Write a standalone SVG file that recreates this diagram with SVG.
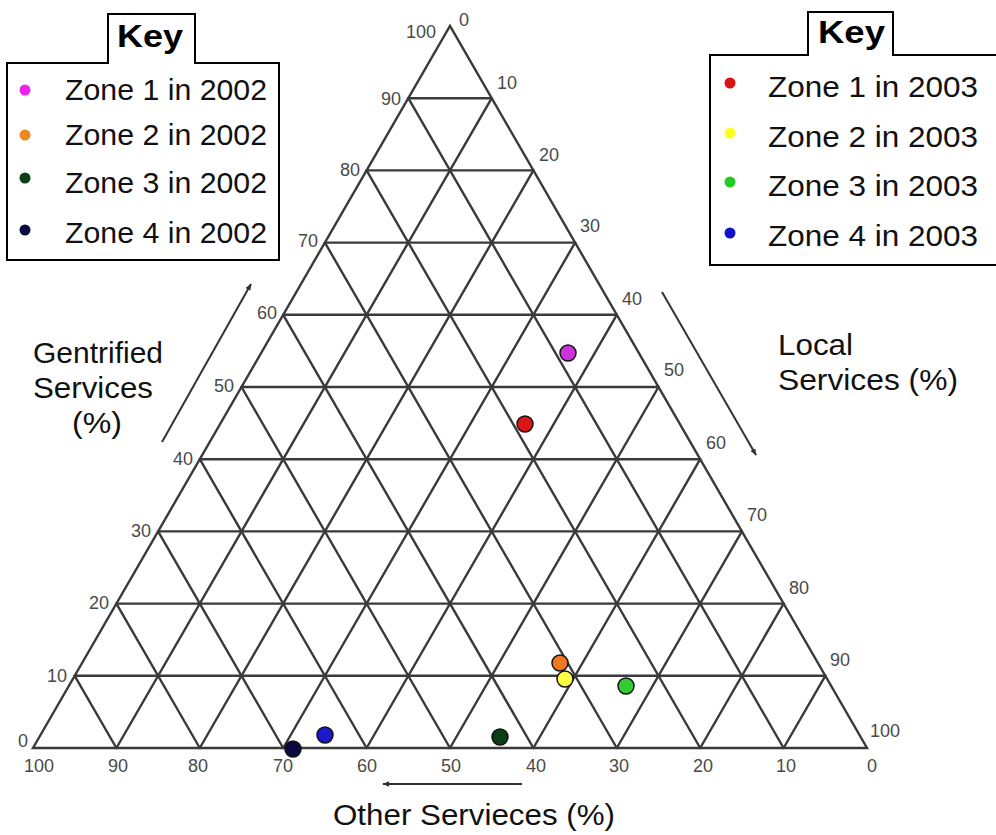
<svg xmlns="http://www.w3.org/2000/svg" width="996" height="835" viewBox="0 0 996 835">
<style>
.grid{stroke:#3a3a3a;stroke-width:2.4;fill:none;stroke-linecap:round}
.tick{font-family:"Liberation Sans",Arial,sans-serif;font-size:18px;fill:#4a4a4a}
.lt{text-anchor:end}
.bt{text-anchor:middle}
.title{font-family:"Liberation Sans",Arial,sans-serif;font-size:30px;fill:#111}
.key{font-family:"Liberation Sans",Arial,sans-serif;font-size:30px;fill:#111}
.keyh{font-family:"Liberation Sans",Arial,sans-serif;font-size:31px;font-weight:bold;fill:#000}
.box{fill:#fff;stroke:#000;stroke-width:2}
.pt{stroke:#111;stroke-width:1.5}
.arrow{stroke:#333;stroke-width:2;fill:none}
</style>
<defs>
<marker id="ah" viewBox="0 0 10 10" refX="9" refY="5" markerWidth="7" markerHeight="7" orient="auto" markerUnits="userSpaceOnUse">
<path d="M0,1 L10,5 L0,9 Z" fill="#333"/>
</marker>
</defs>
<rect width="996" height="835" fill="#fff"/>

<g id="grid">
<polygon class="grid" points="33,748 867,748 450,26"/>
<path class="grid" d="M74.7,675.8H825.3M116.4,603.6H783.6M158.1,531.4H741.9M199.8,459.2H700.2M241.5,387H658.5M283.2,314.8H616.8M324.9,242.6H575.1M366.6,170.4H533.4M408.3,98.2H491.7"/>
<path class="grid" d="M116.4,748L491.7,98.2M199.8,748L533.4,170.4M283.2,748L575.1,242.6M366.6,748L616.8,314.8M450,748L658.5,387M533.4,748L700.2,459.2M616.8,748L741.9,531.4M700.2,748L783.6,603.6M783.6,748L825.3,675.8"/>
<path class="grid" d="M116.4,748L74.7,675.8M199.8,748L116.4,603.6M283.2,748L158.1,531.4M366.6,748L199.8,459.2M450,748L241.5,387M533.4,748L283.2,314.8M616.8,748L324.9,242.6M700.2,748L366.6,170.4M783.6,748L408.3,98.2"/>
</g>

<g id="left-ticks" class="tick lt">
<text x="28" y="747">0</text>
<text x="67" y="682">10</text>
<text x="109" y="609">20</text>
<text x="151" y="537">30</text>
<text x="193" y="465">40</text>
<text x="234" y="392">50</text>
<text x="277" y="319">60</text>
<text x="318" y="247">70</text>
<text x="360" y="176">80</text>
<text x="401" y="105">90</text>
<text x="436" y="38">100</text>
</g>

<g id="right-ticks" class="tick">
<text x="459" y="26">0</text>
<text x="497" y="89">10</text>
<text x="539" y="161">20</text>
<text x="580" y="232">30</text>
<text x="622" y="305">40</text>
<text x="664" y="376">50</text>
<text x="706" y="449">60</text>
<text x="747" y="521">70</text>
<text x="789" y="594">80</text>
<text x="830" y="666">90</text>
<text x="870" y="737">100</text>
</g>

<g id="bottom-ticks" class="tick bt">
<text x="39" y="772">100</text>
<text x="118" y="772">90</text>
<text x="198" y="772">80</text>
<text x="283" y="772">70</text>
<text x="367" y="772">60</text>
<text x="451" y="772">50</text>
<text x="536" y="772">40</text>
<text x="619" y="772">30</text>
<text x="703" y="772">20</text>
<text x="786" y="772">10</text>
<text x="872" y="772">0</text>
</g>

<g id="connectors">
<line class="arrow" x1="162" y1="442" x2="251" y2="284" marker-end="url(#ah)"/>
<line class="arrow" x1="662" y1="292" x2="756" y2="455" marker-end="url(#ah)"/>
<line class="arrow" x1="522" y1="784" x2="383" y2="784" marker-end="url(#ah)"/>
</g>

<g id="axis-gentrified">
<text class="title" x="33" y="363" textLength="130" lengthAdjust="spacingAndGlyphs">Gentrified</text>
<text class="title" x="33" y="398" textLength="120" lengthAdjust="spacingAndGlyphs">Services</text>
<text class="title" x="72" y="433" textLength="50" lengthAdjust="spacingAndGlyphs">(%)</text>
</g>
<g id="axis-local">
<text class="title" x="778" y="355" textLength="75" lengthAdjust="spacingAndGlyphs">Local</text>
<text class="title" x="778" y="390" textLength="180" lengthAdjust="spacingAndGlyphs">Services (%)</text>
</g>
<g id="axis-other">
<text class="title" x="333" y="825" textLength="282" lengthAdjust="spacingAndGlyphs">Other Servieces (%)</text>
</g>

<g id="key-2002">
<path class="box" d="M7,63H108V14H195V63H279V260H7Z"/>
<text class="keyh" x="117" y="47" textLength="66" lengthAdjust="spacingAndGlyphs">Key</text>
<circle cx="25" cy="90" r="5.5" fill="#ee22ee"/>
<circle cx="25" cy="135" r="5.5" fill="#ee8822"/>
<circle cx="25" cy="178" r="5.5" fill="#0b3d16"/>
<circle cx="25" cy="230" r="5.5" fill="#0a0a3c"/>
<text class="key" x="65" y="100" textLength="202" lengthAdjust="spacingAndGlyphs">Zone 1 in 2002</text>
<text class="key" x="65" y="145" textLength="202" lengthAdjust="spacingAndGlyphs">Zone 2 in 2002</text>
<text class="key" x="65" y="193" textLength="202" lengthAdjust="spacingAndGlyphs">Zone 3 in 2002</text>
<text class="key" x="65" y="243" textLength="202" lengthAdjust="spacingAndGlyphs">Zone 4 in 2002</text>
</g>

<g id="key-2003">
<path class="box" d="M710,55H808V12H893V55H1000V265H710Z"/>
<text class="keyh" x="818" y="43" textLength="67" lengthAdjust="spacingAndGlyphs">Key</text>
<circle cx="730" cy="83" r="5.5" fill="#dd1111"/>
<circle cx="730" cy="133" r="5.5" fill="#ffff22"/>
<circle cx="730" cy="182" r="5.5" fill="#22cc22"/>
<circle cx="730" cy="233" r="5.5" fill="#1111cc"/>
<text class="key" x="768" y="97" textLength="210" lengthAdjust="spacingAndGlyphs">Zone 1 in 2003</text>
<text class="key" x="768" y="147" textLength="210" lengthAdjust="spacingAndGlyphs">Zone 2 in 2003</text>
<text class="key" x="768" y="196" textLength="210" lengthAdjust="spacingAndGlyphs">Zone 3 in 2003</text>
<text class="key" x="768" y="246" textLength="210" lengthAdjust="spacingAndGlyphs">Zone 4 in 2003</text>
</g>

<g id="zone1-2002"><circle class="pt" cx="568" cy="353" r="8" fill="#cc33dd"/></g>
<g id="zone1-2003"><circle class="pt" cx="525" cy="424" r="8" fill="#dd1515"/></g>
<g id="zone2-2002"><circle class="pt" cx="560" cy="663" r="8" fill="#ee7722"/></g>
<g id="zone2-2003"><circle class="pt" cx="565" cy="679" r="8" fill="#ffff44"/></g>
<g id="zone3-2002"><circle class="pt" cx="500" cy="737" r="8" fill="#0b3d16"/></g>
<g id="zone3-2003"><circle class="pt" cx="626" cy="686" r="8" fill="#33cc33"/></g>
<g id="zone4-2002"><circle class="pt" cx="293" cy="749" r="8" fill="#0a0a40"/></g>
<g id="zone4-2003"><circle class="pt" cx="325" cy="735" r="8" fill="#1a1acc"/></g>
</svg>
